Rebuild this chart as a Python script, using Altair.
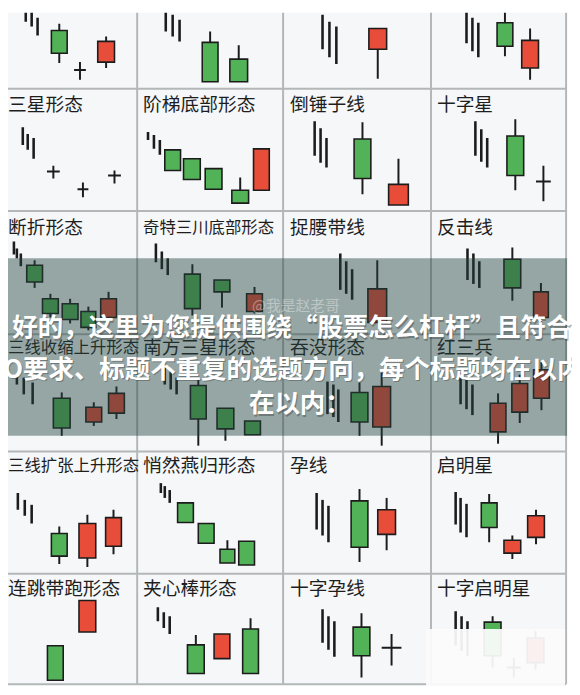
import altair as alt
import pandas as pd

# ---------------- layout of the picture grid (reference pixels) ----------------
COL_LEFT = [0, 139, 287, 437]
ROW_TOP = [-39, 85, 209, 334, 453, 577]
V_LINES = [2, 139, 287, 437, 574]
H_LINES = [85, 209, 334, 453, 577, 689]

# ---------------- panel titles ----------------
TITLES = {
    (1, 0): "三星形态", (1, 1): "阶梯底部形态", (1, 2): "倒锤子线", (1, 3): "十字星",
    (2, 0): "断折形态", (2, 1): "奇特三川底部形态", (2, 2): "捉腰带线", (2, 3): "反击线",
    (3, 0): "三线收缩上升形态", (3, 1): "南方三星形态", (3, 2): "吞没形态", (3, 3): "红三兵",
    (4, 0): "三线扩张上升形态", (4, 1): "悄然燕归形态", (4, 2): "孕线", (4, 3): "启明星",
    (5, 0): "连跳带跑形态", (5, 1): "夹心棒形态", (5, 2): "十字孕线", (5, 3): "十字启明星",
}
TITLE_DX = [8, 6, 7, 6]
TITLE_DY = [0, 17, 17, 14, 15, 15]

# ---------------- prior-trend strokes: (x, y_start, y_end) local ----------------
STROKES = {
    (0, 0): [(26, 41, 56), (32, 46, 61), (38, 52, 70)],
    (0, 1): [(29, 41, 66), (36, 49, 71), (43, 54, 76)],
    (0, 2): [(40, 49, 84), (47, 56, 92), (54, 61, 99)],
    (0, 3): [(36, 46, 78), (42, 52, 86), (48, 57, 92)],
    (1, 0): [(23, 39, 57), (28, 46, 62), (34, 50, 71)],
    (1, 1): [(11, 44, 52), (17, 47, 61), (23, 52, 67)],
    (1, 2): [(32, 33, 68), (38, 40, 75), (44, 50, 80)],
    (1, 3): [(45, 33, 68), (51, 41, 74), (57, 50, 80)],
    (2, 0): [(14, 31, 44), (17, 38, 48), (21, 43, 56)],
    (2, 1): [(19, 33, 52), (25, 41, 59), (31, 48, 65)],
    (2, 2): [(58, 43, 80), (64, 51, 84), (70, 59, 90)],
    (2, 3): [(37, 38, 70), (43, 43, 74), (49, 51, 78)],
    (3, 0): [(17, 41, 51), (24, 44, 61), (33, 49, 71)],
    (3, 1): [(28, 34, 51), (34, 38, 56), (40, 44, 61)],
    (3, 2): [(45, 48, 81), (51, 51, 84), (56, 56, 89)],
    (3, 3): [(30, 42, 71), (36, 46, 76), (42, 51, 82)],
    (4, 0): [(18, 42, 59), (25, 49, 65), (32, 54, 73)],
    (4, 1): [(24, 32, 42), (28, 35, 47), (33, 39, 52)],
    (4, 2): [(34, 42, 79), (40, 49, 85), (46, 55, 92)],
    (4, 3): [(25, 41, 74), (30, 47, 82), (36, 53, 87)],
    (5, 1): [(21, 34, 48), (27, 39, 55), (33, 43, 61)],
    (5, 2): [(40, 36, 70), (46, 43, 77), (52, 48, 84)],
    (5, 3): [(25, 38, 73), (31, 43, 78), (37, 48, 83)],
}

# ---------------- candles: (x, width, open, close, high, low), y grows downward ----------------
CANDLES = {
    (0, 0): [(60, 16, 65, 88, 58, 98), (107.5, 17, 97, 76, 71, 103)],
    (0, 1): [(74, 16, 77, 117, 66, 117), (103, 18, 94, 117, 80, 117)],
    (0, 2): [(96, 18, 84, 63, 63, 114)],
    (0, 3): [(75, 16, 57, 81, 46, 91), (100.5, 17, 103, 75, 63, 115)],
    (1, 1): [(36, 16, 62, 83, 62, 83), (55.5, 17, 71, 92, 71, 92), (77.5, 17, 81, 102, 81, 102),
             (104.5, 17, 103, 116, 90, 116), (126, 16, 103, 61, 61, 103)],
    (1, 2): [(80.5, 17, 51, 91, 34, 107), (117, 20, 118, 97, 71, 118)],
    (1, 3): [(85.5, 17, 48, 88, 31, 103)],
    (2, 0): [(35, 16, 55, 72, 50, 78), (51, 16, 89, 104, 84, 108), (71, 16, 94, 110, 89, 114),
             (89.5, 15, 102, 118, 97, 121), (110, 16, 108, 89, 82, 111)],
    (2, 1): [(56, 16, 64, 99, 54, 106), (86, 16, 70, 82, 70, 98), (119, 16, 102, 84, 77, 104)],
    (2, 2): [(95.5, 19, 113, 79, 50, 113)],
    (2, 3): [(82.5, 17, 49, 78, 37, 91), (111.5, 15, 108, 82, 73, 113)],
    (3, 0): [(62.5, 17, 65, 95, 59, 103), (95, 16, 89, 74, 69, 93), (118, 16, 80, 60, 53, 86)],
    (3, 1): [(62, 16, 52, 86, 46, 113), (89.5, 17, 75, 96, 75, 108), (117, 16, 88, 102, 88, 102)],
    (3, 2): [(77.5, 17, 59, 89, 49, 103), (100, 18, 94, 53, 39, 113)],
    (3, 3): [(68, 16, 99, 70, 60, 111), (90, 16, 79, 50, 41, 90), (112, 16, 65, 36, 28, 77)],
    (4, 0): [(60, 16, 83, 106, 76, 114), (88.5, 17, 108, 73, 64, 117), (115, 16, 96, 67, 59, 104)],
    (4, 1): [(49, 16, 52, 72, 52, 72), (70, 16, 73, 93, 73, 93), (91.5, 15, 99, 113, 90, 113),
             (111, 16, 91, 115, 91, 115)],
    (4, 2): [(77.5, 17, 50, 97, 38, 112), (105, 18, 84, 59, 47, 100)],
    (4, 3): [(59, 16, 52, 77, 43, 92), (82.5, 17, 103, 90, 85, 109), (106.5, 17, 87, 65, 59, 94)],
    (5, 0): [(56, 16, 73, 108, 73, 108), (88.5, 17, 59, 27, 27, 59)],
    (5, 1): [(59.5, 17, 72, 101, 62, 101), (86, 16, 86, 61, 61, 86), (115, 16, 56, 101, 45, 101)],
    (5, 2): [(79.5, 17, 54, 83, 40, 105)],
    (5, 3): [(62.5, 17, 49, 83, 43, 95), (106, 17, 90, 65, 58, 97)],
}

# ---------------- doji crosses: (x, y, half width, y_start, y_end) ----------------
CROSSES = {
    (0, 0): [(81, 105, 6, 97, 115)],
    (1, 0): [(54, 84, 6.5, 78, 91), (84, 102, 5.5, 95, 110), (116, 88, 6.5, 83, 96)],
    (1, 3): [(114, 94, 7.5, 78, 114)],
    (5, 2): [(110, 75, 10, 61, 93)],
    (5, 3): [(84, 95, 7, 85, 105)],
}

# ---------------- overlay banner ----------------
BANNER_LINES = ["好的，这里为您提供围绕“股票怎么杠杆”且符合",
                "SEO要求、标题不重复的选题方向，每个标题均在以内",
                "在以内："]
BANNER_Y = [328, 370, 405]
BANNER_X = [296, 281, 304]
BANNER_BAND = (0, 575, 257, 437)
WATERMARK = "@我是赵老哥"
WATERMARK_POS = (300, 305)
PATCH = (432, 573, 633, 691)

GREEN = "#52b257"
RED = "#e84d3a"
INK = "#1c1c1c"

# ---------------- build tables ----------------
strokes, wicks, bodies, hbars, vbars, titles = [], [], [], [], [], []
for (r, c), lst in STROKES.items():
    for x, y1, y2 in lst:
        strokes.append(dict(x=COL_LEFT[c] + x, y=ROW_TOP[r] + y1, y2=ROW_TOP[r] + y2))
for (r, c), lst in CANDLES.items():
    for x, w, o, cl, h, l in lst:
        X = COL_LEFT[c] + x
        Y = ROW_TOP[r]
        if h < min(o, cl) or l > max(o, cl):
            wicks.append(dict(x=X, y=Y + h, y2=Y + l))
        bodies.append(dict(x=X - w / 2, x2=X + w / 2, y=Y + min(o, cl), y2=Y + max(o, cl),
                           col=GREEN if cl > o else RED))
for (r, c), lst in CROSSES.items():
    for x, y, hw, y1, y2 in lst:
        X = COL_LEFT[c] + x
        Y = ROW_TOP[r]
        hbars.append(dict(x=X - hw, x2=X + hw, y=Y + y))
        vbars.append(dict(x=X, y=Y + y1, y2=Y + y2))
for (r, c), t in TITLES.items():
    titles.append(dict(x=COL_LEFT[c] + TITLE_DX[c], y=ROW_TOP[r] + TITLE_DY[r], t=t,
                       fs=min(19.0, 133.0 / len(t))))

vgrid = pd.DataFrame([dict(x=v, y=ROW_TOP[0] - 5, y2=H_LINES[-1]) for v in V_LINES])
hgrid = pd.DataFrame([dict(y=h, x=V_LINES[0], x2=V_LINES[-1]) for h in H_LINES])
bg = pd.DataFrame([dict(x=V_LINES[0], x2=V_LINES[-1], y=ROW_TOP[0] - 5, y2=H_LINES[-1])])
banner = pd.DataFrame([dict(x=BANNER_BAND[0], x2=BANNER_BAND[1], y=BANNER_BAND[2], y2=BANNER_BAND[3])])
btext = pd.DataFrame([dict(x=x, y=y, t=t) for t, x, y in zip(BANNER_LINES, BANNER_X, BANNER_Y)])
wm = pd.DataFrame([dict(x=WATERMARK_POS[0], y=WATERMARK_POS[1], t=WATERMARK)])
patch = pd.DataFrame([dict(x=PATCH[0], x2=PATCH[1], y=PATCH[2], y2=PATCH[3])])

XS = alt.Scale(domain=[8, 580], nice=False, zero=False)
YS = alt.Scale(domain=[8, 695], nice=False, zero=False, reverse=True)
X = lambda f="x": alt.X(f + ":Q", scale=XS, axis=None)
Y = lambda f="y": alt.Y(f + ":Q", scale=YS, axis=None)

FONT = "Noto Sans CJK SC"

layers = [
    alt.Chart(bg).mark_rect(fill="#f5f7f9", clip=True).encode(x=X(), x2="x2", y=Y(), y2="y2"),
    alt.Chart(vgrid).mark_rule(color="#b3b7b7", strokeWidth=2, clip=True).encode(x=X(), y=Y(), y2="y2"),
    alt.Chart(hgrid).mark_rule(color="#b3b7b7", strokeWidth=2, clip=True).encode(y=Y(), x=X(), x2="x2"),
    alt.Chart(pd.DataFrame(strokes)).mark_rule(color=INK, strokeWidth=2.6, clip=True).encode(x=X(), y=Y(), y2="y2"),
    alt.Chart(pd.DataFrame(wicks)).mark_rule(color=INK, strokeWidth=2, clip=True).encode(x=X(), y=Y(), y2="y2"),
    alt.Chart(pd.DataFrame(bodies)).mark_rect(stroke=INK, strokeWidth=1.6, clip=True).encode(
        x=X(), x2="x2", y=Y(), y2="y2", fill=alt.Fill("col:N", scale=None)),
    alt.Chart(pd.DataFrame(hbars)).mark_rule(color=INK, strokeWidth=2, clip=True).encode(x=X(), x2="x2", y=Y()),
    alt.Chart(pd.DataFrame(vbars)).mark_rule(color=INK, strokeWidth=2, clip=True).encode(x=X(), y=Y(), y2="y2"),
    alt.Chart(pd.DataFrame(titles)).mark_text(align="left", baseline="middle", font=FONT, color="#1e1e1e",
                                              clip=True).encode(
        x=X(), y=Y(), text="t:N", size=alt.Size("fs:Q", scale=None)),
    alt.Chart(patch).mark_rect(fill="#fbfbfb", opacity=0.94, clip=True).encode(x=X(), x2="x2", y=Y(), y2="y2"),
    alt.Chart(banner).mark_rect(fill="#23423d", opacity=0.45, clip=True).encode(x=X(), x2="x2", y=Y(), y2="y2"),
    alt.Chart(wm).mark_text(align="center", baseline="middle", font=FONT, fontSize=15, color="#ffffff",
                            opacity=0.35, clip=True).encode(x=X(), y=Y(), text="t:N"),
    alt.Chart(btext).mark_text(align="center", baseline="middle", font=FONT, fontSize=25.8, fontWeight="bold",
                               color="#2a2a2a", opacity=0.35, dx=1, dy=1.5, clip=True).encode(x=X(), y=Y(), text="t:N"),
    alt.Chart(btext).mark_text(align="center", baseline="middle", font=FONT, fontSize=25.8, fontWeight="bold",
                               color="#ffffff", clip=True).encode(x=X(), y=Y(), text="t:N"),
]

chart = alt.layer(*layers).properties(
    width=572, height=687, padding=0, autosize=alt.AutoSizeParams(type="none"), background="#ffffff"
).configure_view(strokeWidth=0)

chart.save("out.html", embed_options={"renderer": "svg", "actions": False})
